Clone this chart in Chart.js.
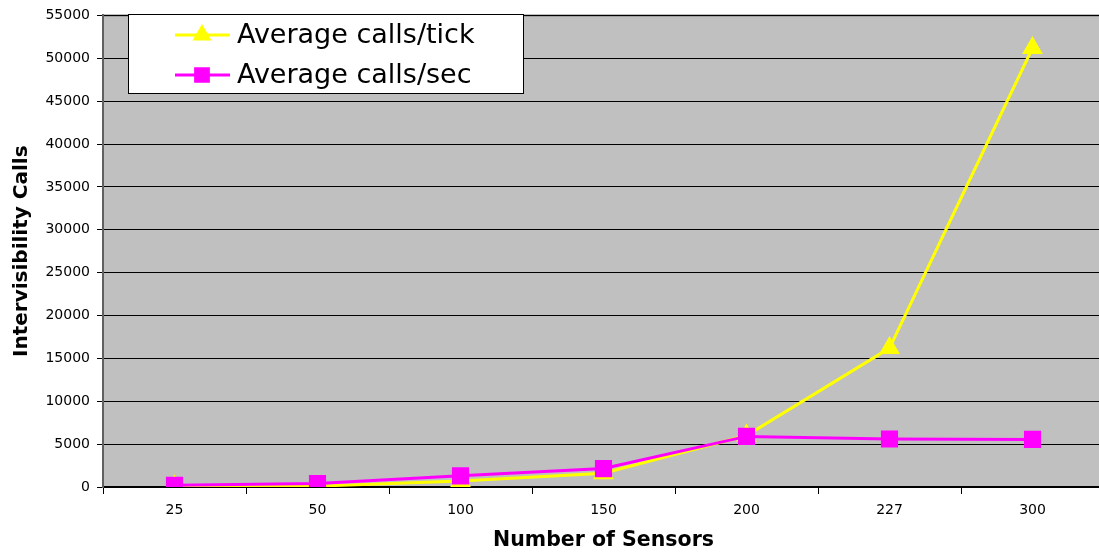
<!DOCTYPE html>
<html>
<head>
<meta charset="utf-8">
<script src="https://cdn.jsdelivr.net/npm/chart.js@4/dist/chart.umd.min.js"></script>
<style>
  html, body { margin: 0; padding: 0; background: #fff; overflow: hidden; }
  #c { display: block; }
</style>
</head>
<body>
<canvas id="c" width="1117" height="556" style="width:1117px;height:556px"></canvas>
<script>
// Sensor counts along the x axis
const sensors = ['25', '50', '100', '150', '200', '227', '300'];
// Intervisibility calls per simulation tick
const callsPerTick = [50, 100, 700, 1600, 6000, 16200, 51200];
// Intervisibility calls per second
const callsPerSec = [200, 400, 1300, 2150, 5900, 5600, 5550];
// Series names
const seriesNames = ['Average calls/tick', 'Average calls/sec'];

const FONT = "'DejaVu Sans', Verdana, sans-serif";
const YELLOW = '#FFFF00';
const MAGENTA = '#FF00FF';

// Grey plot backdrop with a top rule
const plotBackground = {
  id: 'plotBackground',
  beforeDraw(chart) {
    const { ctx, chartArea: a } = chart;
    ctx.save();
    ctx.fillStyle = '#C0C0C0';
    ctx.fillRect(a.left, a.top, a.right - a.left, a.bottom - a.top);
    ctx.strokeStyle = '#808080';
    ctx.lineWidth = 2;
    ctx.beginPath();
    ctx.moveTo(a.left, a.top);
    ctx.lineTo(a.right, a.top);
    ctx.stroke();
    ctx.restore();
  }
};

// Boxed legend sitting inside the plot, top-left
const boxLegend = {
  id: 'boxLegend',
  afterDraw(chart) {
    const { ctx } = chart;
    const x = 128.5, y = 14.5, w = 395, h = 79;
    ctx.save();
    ctx.fillStyle = '#fff';
    ctx.fillRect(x, y, w, h);
    ctx.strokeStyle = '#000';
    ctx.lineWidth = 1;
    ctx.strokeRect(x, y, w, h);
    const rows = [35, 75];
    seriesNames.forEach((name, i) => {
      const ds = chart.data.datasets.find(d => d.label === name);
      const ry = rows[i];
      ctx.strokeStyle = ds.borderColor;
      ctx.lineWidth = 3;
      ctx.beginPath();
      ctx.moveTo(175, ry);
      ctx.lineTo(230, ry);
      ctx.stroke();
      Chart.helpers.drawPoint(ctx, {
        pointStyle: ds.pointStyle,
        radius: ds.pointStyle === 'rect' ? 9 : 8,
        borderWidth: 1
      }, 202, ry);
      ctx.fillStyle = ds.pointBackgroundColor;
      ctx.fill();
      ctx.fillStyle = '#000';
      ctx.font = '27px ' + FONT;
      ctx.textBaseline = 'middle';
      ctx.textAlign = 'left';
      ctx.fillText(ds.label, 237, ry + 1);
    });
    ctx.restore();
  }
};

new Chart(document.getElementById('c'), {
  type: 'line',
  data: {
    labels: sensors,
    datasets: [
      {
        label: seriesNames[1],
        data: callsPerSec,
        borderColor: MAGENTA,
        backgroundColor: MAGENTA,
        pointBackgroundColor: MAGENTA,
        pointBorderColor: MAGENTA,
        pointStyle: 'rect',
        pointRadius: 10,
        borderWidth: 3,
        order: 1
      },
      {
        label: seriesNames[0],
        data: callsPerTick,
        borderColor: YELLOW,
        backgroundColor: YELLOW,
        pointBackgroundColor: YELLOW,
        pointBorderColor: YELLOW,
        pointStyle: 'triangle',
        pointRadius: 9,
        borderWidth: 3,
        order: 2
      }
    ]
  },
  options: {
    responsive: false,
    animation: false,
    events: [],
    layout: { padding: { top: 14, left: 0, right: 0, bottom: 0 } },
    plugins: {
      legend: { display: false },
      tooltip: { enabled: false }
    },
    scales: {
      x: {
        offset: true,
        grid: {
          offset: true,
          drawOnChartArea: false,
          color: '#000',
          tickLength: 7
        },
        border: { color: '#000', width: 2 },
        ticks: {
          color: '#000',
          font: { family: FONT, size: 14 },
          padding: 8,
          maxRotation: 0
        },
        title: {
          display: true,
          text: 'Number of Sensors',
          color: '#000',
          font: { family: FONT, size: 20.5, weight: 'bold' },
          padding: { top: 0, bottom: 3 }
        },
        afterFit(scale) { scale.height = 69; }
      },
      y: {
        min: 0,
        max: 55000,
        grid: {
          color: '#000',
          lineWidth: 1,
          tickLength: 6
        },
        border: { color: '#606060', width: 2 },
        ticks: {
          stepSize: 5000,
          color: '#000',
          font: { family: FONT, size: 14 },
          padding: 7,
          callback: v => String(v)
        },
        title: {
          display: true,
          text: 'Intervisibility Calls',
          color: '#000',
          font: { family: FONT, size: 20, weight: 'bold' },
          padding: { top: 10, bottom: 0 }
        },
        afterFit(scale) { scale.width = 103; }
      }
    }
  },
  plugins: [plotBackground, boxLegend]
});
</script>
</body>
</html>
